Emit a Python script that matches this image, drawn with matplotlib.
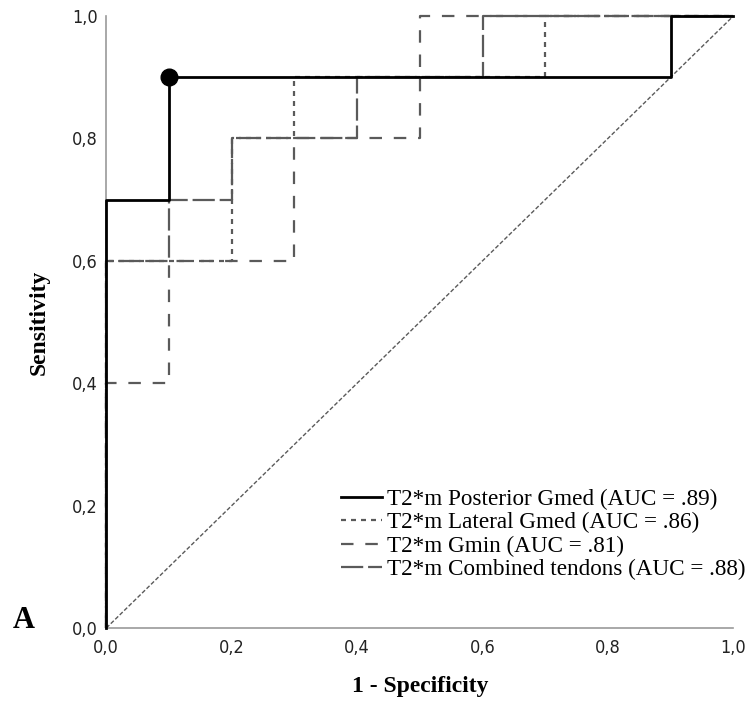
import matplotlib
matplotlib.use("Agg")
import matplotlib.pyplot as plt
from matplotlib.font_manager import FontProperties

plt.rcParams['lines.scale_dashes'] = False

# ROC curve data (1 - specificity, sensitivity)
post_fpr = [0.0, 0.0, 0.1, 0.1, 0.9, 0.9, 1.0]
post_tpr = [0.0, 0.7, 0.7, 0.9, 0.9, 1.0, 1.0]

lat_fpr = [0.0, 0.0, 0.2, 0.2, 0.3, 0.3, 0.7, 0.7, 1.0]
lat_tpr = [0.0, 0.6, 0.6, 0.8, 0.8, 0.9, 0.9, 1.0, 1.0]

gmin_fpr = [0.0, 0.0, 0.1, 0.1, 0.3, 0.3, 0.5, 0.5, 1.0]
gmin_tpr = [0.0, 0.4, 0.4, 0.6, 0.6, 0.8, 0.8, 1.0, 1.0]

comb_fpr = [0.0, 0.0, 0.1, 0.1, 0.2, 0.2, 0.4, 0.4, 0.6, 0.6, 1.0]
comb_tpr = [0.0, 0.6, 0.6, 0.7, 0.7, 0.8, 0.8, 0.9, 0.9, 1.0, 1.0]

cut_point = (0.1, 0.9)

labels = ["T2*m Posterior Gmed (AUC = .89)",
          "T2*m Lateral Gmed (AUC = .86)",
          "T2*m Gmin (AUC = .81)",
          "T2*m Combined tendons (AUC = .88)"]

ticks = [0.0, 0.2, 0.4, 0.6, 0.8, 1.0]
tick_labels = ["0,0", "0,2", "0,4", "0,6", "0,8", "1,0"]

fig = plt.figure(figsize=(7.47, 7.01), dpi=100)
ax = fig.add_axes([0.1423, 0.1041, 0.8395, 0.8731])

gray = "#5a5a5a"
ax.plot([0, 1], [0, 1], color=gray, lw=1.0, dashes=(3, 1.5), clip_on=False, zorder=2)
l_gmin, = ax.plot(gmin_fpr, gmin_tpr, color=gray, lw=1.6, dashes=(9, 8.5), clip_on=False, zorder=3)
l_comb, = ax.plot(comb_fpr, comb_tpr, color=gray, lw=1.6, dashes=(16, 3.5), clip_on=False, zorder=3)
l_lat, = ax.plot(lat_fpr, lat_tpr, color=gray, lw=1.6, dashes=(3.6, 3.6), clip_on=False, zorder=3)
l_post, = ax.plot(post_fpr, post_tpr, color="black", lw=2.0, clip_on=False, zorder=4)
ax.plot([cut_point[0]], [cut_point[1]], "o", color="black", ms=12, clip_on=False, zorder=5)

ax.set_xlim(0, 1)
ax.set_ylim(0, 1)
for s in ["top", "right"]:
    ax.spines[s].set_visible(False)
for s in ["left", "bottom"]:
    ax.spines[s].set_color("#9a9a9a")
    ax.spines[s].set_linewidth(1.2)

tick_font = FontProperties(family="DejaVu Sans", stretch="condensed", size=13)
ax.set_xticks(ticks)
ax.set_yticks(ticks)
ax.set_xticklabels(tick_labels, fontproperties=tick_font, color="#222222")
ax.set_yticklabels(tick_labels, fontproperties=tick_font, color="#222222")
ax.tick_params(axis="both", length=0)
ax.tick_params(axis="x", pad=8)
ax.tick_params(axis="y", pad=6)

ax.set_xlabel("1 - Specificity", family="Liberation Serif", fontweight="bold", fontsize=17, labelpad=13.5)
ax.set_ylabel("Sensitivity", family="Liberation Serif", fontweight="bold", fontsize=17, labelpad=16)

leg = ax.legend([l_post, l_lat, l_gmin, l_comb], labels, loc="lower left",
                bbox_to_anchor=(0.375, 0.078), frameon=False, borderpad=0, borderaxespad=0,
                handlelength=1.75, handletextpad=0.2, labelspacing=0.1,
                prop=FontProperties(family="Liberation Serif", size=16.7))

fig.text(13 / 747, 1 - 628 / 701, "A", family="Liberation Serif", fontweight="bold",
         fontsize=22, ha="left", va="baseline")

fig.savefig("out.png", dpi=100)
